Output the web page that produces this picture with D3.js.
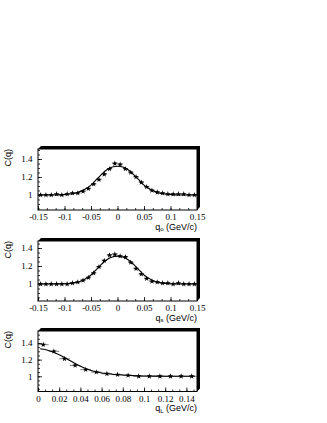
<!DOCTYPE html>
<html lang="en">

<head>
    <meta charset="UTF-8">
    <script src="https://cdn.jsdelivr.net/npm/d3@7/dist/d3.min.js"></script>
    <title>C(q)</title>
    <style>
        body { margin: 0; background: #fff; }
        .tick text { font-family: "Liberation Serif", serif; font-size: 9px; }
    </style>
</head>

<body>
    <svg id="mainsvg" width="327" height="423"></svg>
    <script>
        // bin centres and measured correlation values
        const symBins = [-0.145, -0.135, -0.125, -0.115, -0.105, -0.095, -0.085, -0.075, -0.065, -0.055,
            -0.045, -0.035, -0.025, -0.015, -0.005, 0.005, 0.015, 0.025, 0.035, 0.045,
            0.055, 0.065, 0.075, 0.085, 0.095, 0.105, 0.115, 0.125, 0.135, 0.145]
        const qoVals = [1.00, 1.00, 1.00, 1.01, 1.00, 1.01, 1.02, 1.02, 1.04, 1.07,
            1.12, 1.17, 1.23, 1.29, 1.35, 1.34, 1.29, 1.25, 1.20, 1.14,
            1.09, 1.05, 1.03, 1.02, 1.01, 1.01, 1.01, 1.01, 1.00, 1.00]
        const qsVals = [1.00, 1.00, 1.00, 1.00, 1.00, 1.00, 1.01, 1.02, 1.04, 1.07,
            1.12, 1.19, 1.26, 1.32, 1.33, 1.31, 1.30, 1.24, 1.17, 1.11,
            1.06, 1.03, 1.02, 1.01, 1.01, 1.00, 1.01, 1.00, 1.00, 1.00]
        const symErr = [0.008, 0.008, 0.008, 0.008, 0.008, 0.008, 0.008, 0.008, 0.009, 0.009,
            0.010, 0.010, 0.011, 0.012, 0.013, 0.013, 0.012, 0.011, 0.010, 0.010,
            0.009, 0.009, 0.008, 0.008, 0.008, 0.008, 0.008, 0.008, 0.008, 0.008]

        const longBins = [0.005, 0.015, 0.025, 0.035, 0.045, 0.055, 0.065, 0.075, 0.085, 0.095, 0.105, 0.115, 0.125, 0.135, 0.145]
        const qlVals = [1.38, 1.30, 1.21, 1.13, 1.08, 1.05, 1.03, 1.02, 1.01, 1.00, 1.00, 1.00, 1.00, 1.00, 1.00]
        const longErr = [0.02, 0.015, 0.012, 0.01, 0.008, 0.007, 0.006, 0.006, 0.005, 0.005, 0.005, 0.005, 0.005, 0.005, 0.005]

        // fit curves
        const symFitQ = [-0.15, -0.14, -0.13, -0.12, -0.11, -0.10, -0.09, -0.08, -0.07, -0.06, -0.05, -0.04, -0.03, -0.02, -0.01, 0,
            0.01, 0.02, 0.03, 0.04, 0.05, 0.06, 0.07, 0.08, 0.09, 0.10, 0.11, 0.12, 0.13, 0.14, 0.15]
        const qoFit = [1.0, 1.0, 1.0, 1.0, 1.001, 1.005, 1.01, 1.02, 1.04, 1.07, 1.11, 1.17, 1.23, 1.28, 1.31, 1.32,
            1.31, 1.28, 1.23, 1.17, 1.11, 1.07, 1.04, 1.02, 1.01, 1.005, 1.001, 1.0, 1.0, 1.0, 1.0]
        const qsFit = [1.0, 1.0, 1.0, 1.0, 1.001, 1.003, 1.007, 1.015, 1.03, 1.06, 1.10, 1.16, 1.22, 1.27, 1.30, 1.31,
            1.30, 1.27, 1.22, 1.16, 1.10, 1.06, 1.03, 1.015, 1.007, 1.003, 1.001, 1.0, 1.0, 1.0, 1.0]
        const longFitQ = [0.002, 0.01, 0.02, 0.03, 0.04, 0.05, 0.06, 0.07, 0.08, 0.09, 0.10, 0.11, 0.12, 0.13, 0.14, 0.148]
        const qlFit = [1.33, 1.31, 1.26, 1.19, 1.12, 1.07, 1.04, 1.025, 1.015, 1.008, 1.004, 1.002, 1.001, 1.0, 1.0, 1.0]

        // tick labels
        const symTicks = [-0.15, -0.1, -0.05, 0, 0.05, 0.1, 0.15]
        const longTicks = [0, 0.02, 0.04, 0.06, 0.08, 0.1, 0.12, 0.14]
        const yTicks = [1, 1.2, 1.4]

        const svg = d3.select('#mainsvg')
        const left = 38, right = 197

        function panel(p) {
            const x = d3.scaleLinear().domain(p.xDomain).range([left, right])
            const y = d3.scaleLinear().domain(p.yDomain).range([p.bottom, p.top])
            const g = svg.append('g')

            // shadowed frame (thick top and right)
            const b = 3
            g.append('polygon')
                .attr('points', [[left, p.top], [left + b, p.top - b], [right + b, p.top - b],
                    [right + b, p.bottom - b], [right, p.bottom], [right, p.top]].join(' '))
                .attr('fill', '#000')
            g.append('rect')
                .attr('x', left).attr('y', p.top)
                .attr('width', right - left).attr('height', p.bottom - p.top)
                .attr('fill', 'none').attr('stroke', '#000').attr('stroke-width', 1)

            // x axis
            const xAxis = d3.axisBottom(x).tickValues(p.xTicks).tickSize(-4).tickPadding(4)
                .tickFormat(d => String(+d.toFixed(3)))
            g.append('g').attr('transform', `translate(0,${p.bottom})`).call(xAxis)
            const xMinor = d3.axisBottom(x).tickValues(d3.range(p.xDomain[0], p.xDomain[1] + 1e-9, p.xMinor))
                .tickSize(-2).tickFormat('')
            g.append('g').attr('transform', `translate(0,${p.bottom})`).call(xMinor)

            // y axis
            const yAxis = d3.axisLeft(y).tickValues(yTicks).tickSize(-4).tickPadding(5.5)
                .tickFormat(d => String(d))
            g.append('g').attr('transform', `translate(${left},0)`).call(yAxis)
            const yMinor = d3.axisLeft(y).tickValues(d3.range(0.85, p.yDomain[1], 0.05))
                .tickSize(-2).tickFormat('')
            g.append('g').attr('transform', `translate(${left},0)`).call(yMinor)

            g.selectAll('.domain').remove()
            g.selectAll('.tick line').attr('stroke', '#000').attr('stroke-width', 0.8)
            g.selectAll('.tick text').attr('fill', '#000')

            // titles
            const xt = g.append('text')
                .attr('x', right).attr('y', p.bottom + 19.5)
                .attr('text-anchor', 'end')
                .attr('font-family', '"Liberation Sans", sans-serif')
                .attr('font-size', 9)
            xt.append('tspan').text('q')
            xt.append('tspan').text(p.sub).attr('font-size', 6).attr('dy', 1.5)
            xt.append('tspan').text(' (GeV/c)').attr('dy', -1.5)

            g.append('text')
                .attr('transform', `translate(11,${p.top}) rotate(-90)`)
                .attr('text-anchor', 'end')
                .attr('font-family', '"Liberation Sans", sans-serif')
                .attr('font-size', 9)
                .text('C(q)')

            // error bars
            const bw = 0.005
            p.bins.forEach((q, i) => {
                g.append('line')
                    .attr('x1', x(q - bw)).attr('x2', x(q + bw))
                    .attr('y1', y(p.vals[i])).attr('y2', y(p.vals[i]))
                    .attr('stroke', '#444').attr('stroke-width', 0.7)
                g.append('line')
                    .attr('x1', x(q)).attr('x2', x(q))
                    .attr('y1', y(p.vals[i] - p.errs[i])).attr('y2', y(p.vals[i] + p.errs[i]))
                    .attr('stroke', '#444').attr('stroke-width', 0.7)
            })

            // fit
            const line = d3.line()
                .x((d, i) => x(p.fitQ[i]))
                .y(d => y(d))
                .curve(d3.curveCatmullRom)
            g.append('path').datum(p.fit)
                .attr('d', line)
                .attr('fill', 'none').attr('stroke', '#000').attr('stroke-width', 1.1)

            // markers
            const star = d3.symbol(d3.symbolStar, 10)
            p.bins.forEach((q, i) => {
                g.append('path').attr('d', star)
                    .attr('transform', `translate(${x(q)},${y(p.vals[i])})`)
                    .attr('fill', '#000')
            })
        }

        panel({ top: 149, bottom: 210, xDomain: [-0.15, 0.15], yDomain: [0.833, 1.511], xTicks: symTicks, xMinor: 0.05 / 3,
            bins: symBins, vals: qoVals, errs: symErr, fitQ: symFitQ, fit: qoFit, sub: 'o' })
        panel({ top: 241, bottom: 301, xDomain: [-0.15, 0.15], yDomain: [0.811, 1.478], xTicks: symTicks, xMinor: 0.05 / 3,
            bins: symBins, vals: qsVals, errs: symErr, fitQ: symFitQ, fit: qsFit, sub: 's' })
        panel({ top: 331, bottom: 391.5, xDomain: [0, 0.15], yDomain: [0.817, 1.544], xTicks: longTicks, xMinor: 0.02 / 3,
            bins: longBins, vals: qlVals, errs: longErr, fitQ: longFitQ, fit: qlFit, sub: 'L' })
    </script>
</body>

</html>
